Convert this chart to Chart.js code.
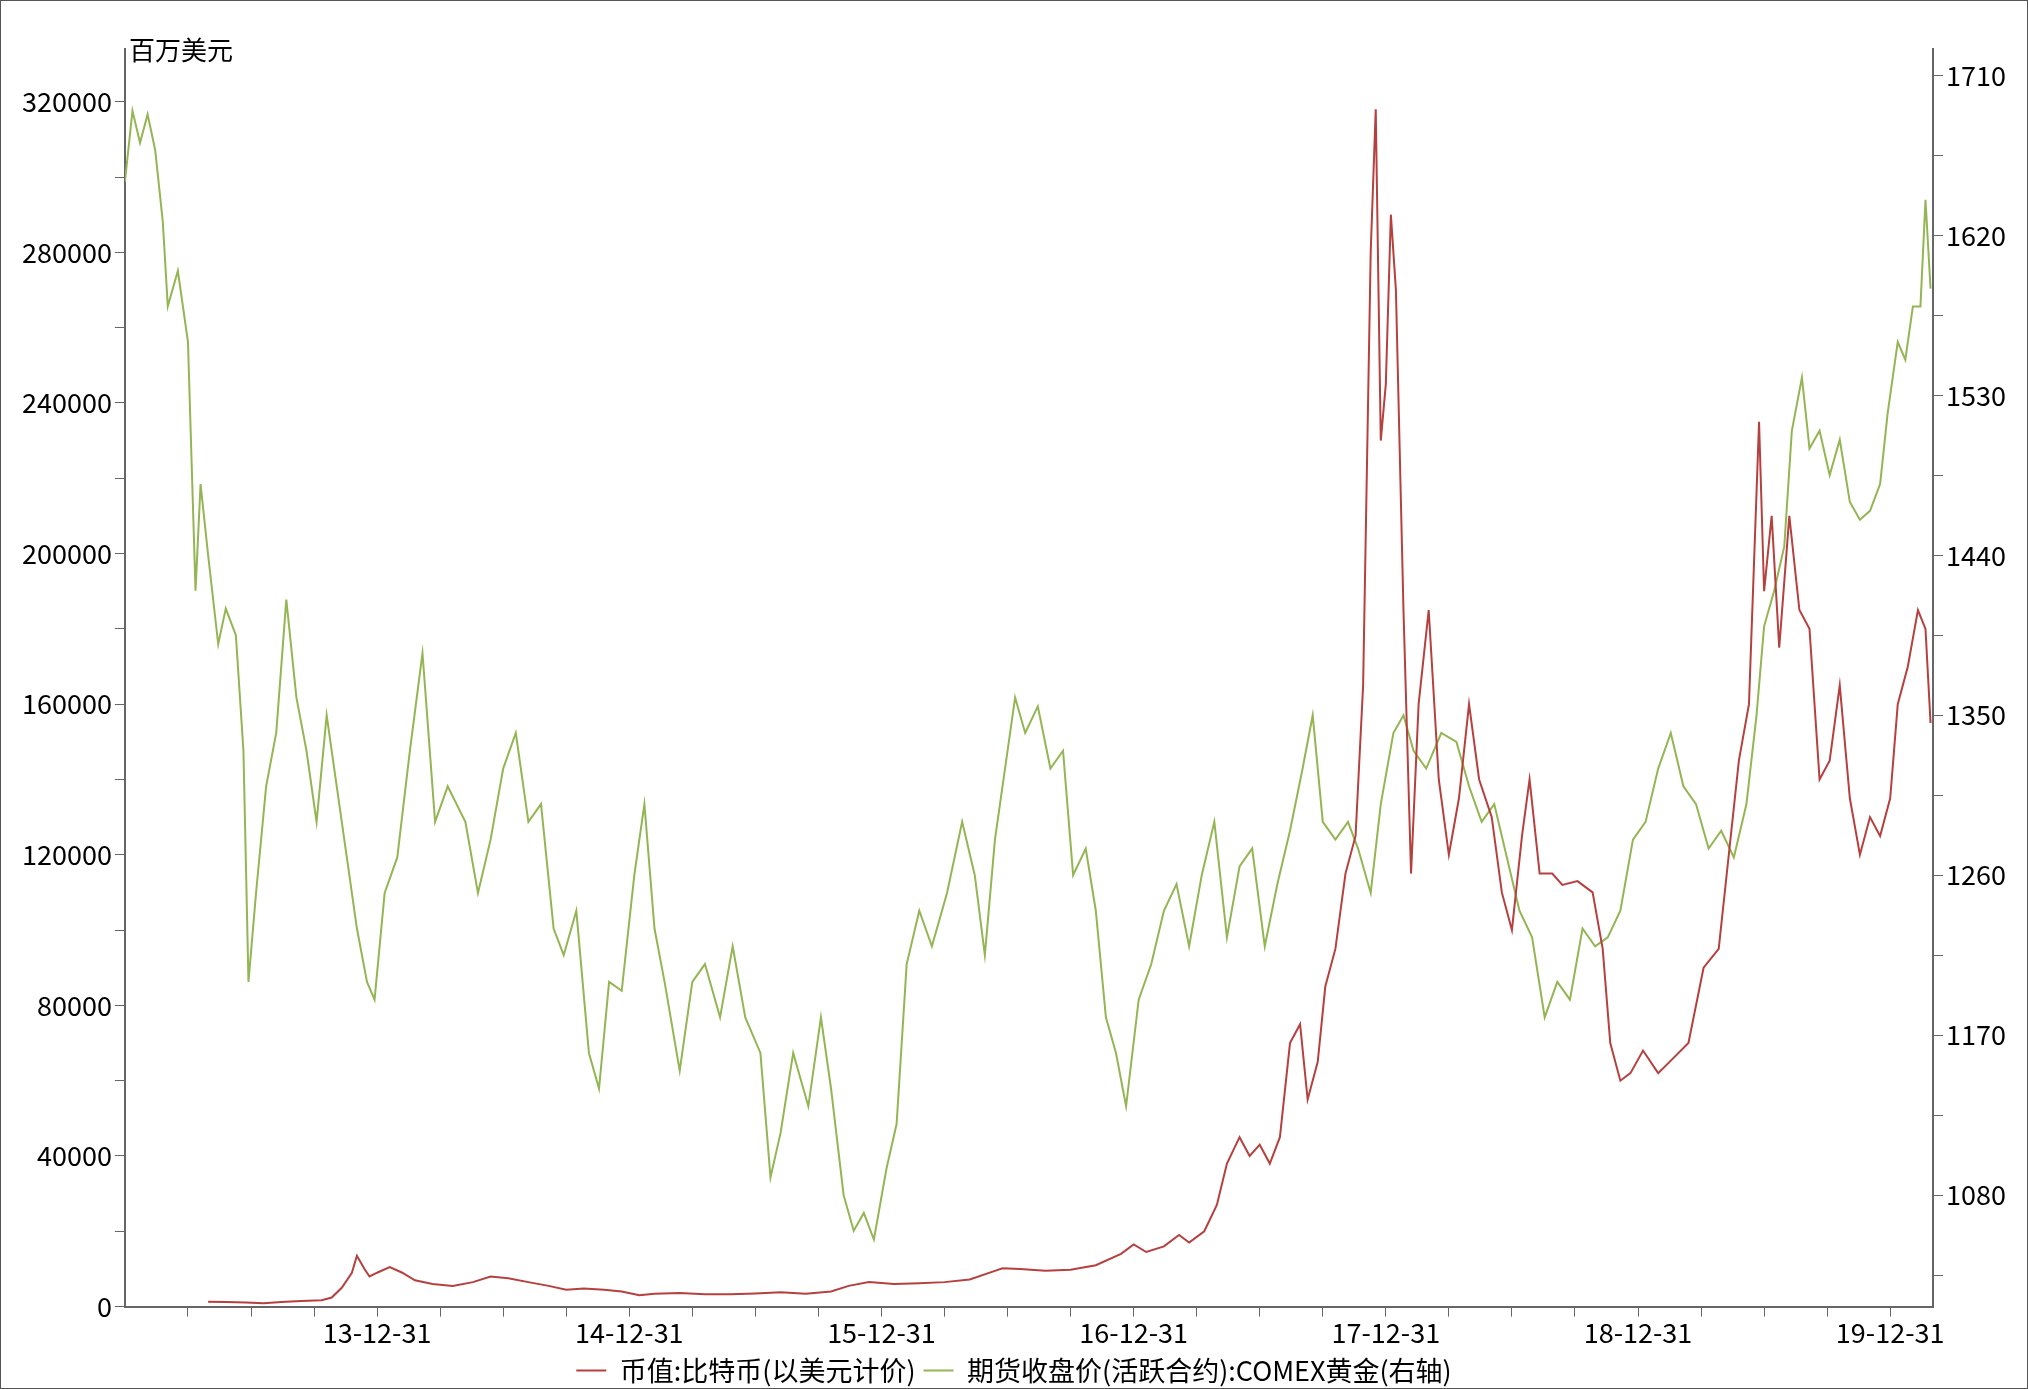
<!DOCTYPE html>
<html><head><meta charset="utf-8">
<script src="https://cdn.jsdelivr.net/npm/chart.js@4"></script>
<style>
body{margin:0;background:#fff;}
#wrap{position:absolute;left:0;top:0;width:2026px;height:1387px;border:1px solid #555;}
</style></head>
<body><div id="wrap"><canvas id="c" width="2026" height="1387"></canvas></div>
<script>
// x in decimal years; 2014.0 is shown as 13-12-31
var yearTicks = [2014, 2015, 2016, 2017, 2018, 2019, 2020];
var rightTicks = [1080, 1170, 1260, 1350, 1440, 1530, 1620, 1710];

var gold = [
[2013.00,1650],[2013.03,1690],[2013.06,1672],[2013.09,1688],[2013.12,1668],[2013.15,1628],[2013.17,1580],[2013.21,1600],[2013.25,1560],[2013.28,1420],[2013.30,1480],[2013.33,1440],[2013.37,1390],[2013.40,1410],[2013.44,1395],[2013.47,1330],[2013.49,1200],[2013.52,1250],[2013.56,1310],[2013.60,1340],[2013.64,1415],[2013.68,1360],[2013.72,1330],[2013.76,1290],[2013.80,1350],[2013.84,1310],[2013.88,1270],[2013.92,1230],[2013.96,1200],[2013.99,1190],
[2014.03,1250],[2014.08,1270],[2014.13,1330],[2014.18,1385],[2014.23,1290],[2014.28,1310],[2014.35,1290],[2014.40,1250],[2014.45,1280],[2014.50,1320],[2014.55,1340],[2014.60,1290],[2014.65,1300],[2014.70,1230],[2014.74,1215],[2014.79,1240],[2014.84,1160],[2014.88,1140],[2014.92,1200],[2014.97,1195],
[2015.02,1260],[2015.06,1300],[2015.10,1230],[2015.14,1200],[2015.20,1150],[2015.25,1200],[2015.30,1210],[2015.36,1180],[2015.41,1220],[2015.46,1180],[2015.52,1160],[2015.56,1090],[2015.60,1115],[2015.65,1160],[2015.71,1130],[2015.76,1180],[2015.80,1140],[2015.85,1080],[2015.89,1060],[2015.93,1070],[2015.97,1055],
[2016.02,1095],[2016.06,1120],[2016.10,1210],[2016.15,1240],[2016.20,1220],[2016.26,1250],[2016.32,1290],[2016.37,1260],[2016.41,1215],[2016.45,1280],[2016.49,1320],[2016.53,1360],[2016.57,1340],[2016.62,1355],[2016.67,1320],[2016.72,1330],[2016.76,1260],[2016.81,1275],[2016.85,1240],[2016.89,1180],[2016.93,1160],[2016.97,1130],
[2017.02,1190],[2017.07,1210],[2017.12,1240],[2017.17,1255],[2017.22,1220],[2017.27,1260],[2017.32,1290],[2017.37,1225],[2017.42,1265],[2017.47,1275],[2017.52,1220],[2017.57,1255],[2017.62,1285],[2017.67,1320],[2017.71,1350],[2017.75,1290],[2017.80,1280],[2017.85,1290],[2017.89,1275],[2017.94,1250],[2017.98,1300],
[2018.03,1340],[2018.07,1350],[2018.11,1330],[2018.16,1320],[2018.22,1340],[2018.28,1335],[2018.33,1310],[2018.38,1290],[2018.43,1300],[2018.48,1270],[2018.53,1240],[2018.58,1225],[2018.63,1180],[2018.68,1200],[2018.73,1190],[2018.78,1230],[2018.83,1220],[2018.88,1225],[2018.93,1240],[2018.98,1280],
[2019.03,1290],[2019.08,1320],[2019.13,1340],[2019.18,1310],[2019.23,1300],[2019.28,1275],[2019.33,1285],[2019.38,1270],[2019.43,1300],[2019.47,1350],[2019.50,1400],[2019.54,1420],[2019.58,1445],[2019.61,1510],[2019.65,1540],[2019.68,1500],[2019.72,1510],[2019.76,1485],[2019.80,1505],[2019.84,1470],[2019.88,1460],[2019.92,1465],[2019.96,1480],[2019.99,1520],
[2020.03,1560],[2020.06,1550],[2020.09,1580],[2020.12,1580],[2020.14,1640],[2020.16,1590]
];
var btc = [
[2013.33,1300],[2013.40,1200],[2013.48,1100],[2013.55,900],[2013.62,1200],[2013.70,1500],[2013.78,1700],[2013.82,2400],[2013.86,5000],[2013.90,9000],[2013.92,13500],[2013.95,10000],[2013.97,8000],[2014.00,9000],
[2014.05,10500],[2014.10,9000],[2014.15,7000],[2014.22,6000],[2014.30,5500],[2014.38,6500],[2014.45,8000],[2014.52,7500],[2014.60,6500],[2014.68,5500],[2014.75,4500],[2014.82,4800],[2014.90,4500],[2014.97,4000],
[2015.04,3000],[2015.10,3400],[2015.20,3600],[2015.30,3300],[2015.40,3300],[2015.50,3500],[2015.60,3800],[2015.70,3400],[2015.80,4000],[2015.87,5500],[2015.95,6500],
[2016.05,6000],[2016.15,6200],[2016.25,6500],[2016.35,7200],[2016.45,9500],[2016.48,10200],[2016.55,10000],[2016.65,9500],[2016.75,9800],[2016.85,11000],[2016.95,14000],
[2017.00,16500],[2017.05,14500],[2017.12,16000],[2017.18,19000],[2017.22,17000],[2017.28,20000],[2017.33,27000],[2017.37,38000],[2017.42,45000],[2017.46,40000],[2017.50,43000],[2017.54,38000],[2017.58,45000],[2017.62,70000],[2017.66,75000],[2017.69,55000],[2017.73,65000],[2017.76,85000],[2017.80,95000],[2017.84,115000],[2017.88,125000],[2017.91,165000],[2017.94,280000],[2017.96,318000],[2017.98,230000],
[2018.00,245000],[2018.02,290000],[2018.04,270000],[2018.07,185000],[2018.10,115000],[2018.13,160000],[2018.17,185000],[2018.21,140000],[2018.25,120000],[2018.29,135000],[2018.33,160000],[2018.37,140000],[2018.42,130000],[2018.46,110000],[2018.50,100000],[2018.54,125000],[2018.57,140000],[2018.61,115000],[2018.66,115000],[2018.70,112000],[2018.76,113000],[2018.82,110000],[2018.86,95000],[2018.89,70000],[2018.93,60000],[2018.97,62000],
[2019.02,68000],[2019.08,62000],[2019.14,66000],[2019.20,70000],[2019.26,90000],[2019.32,95000],[2019.36,120000],[2019.40,145000],[2019.44,160000],[2019.48,235000],[2019.50,190000],[2019.53,210000],[2019.56,175000],[2019.60,210000],[2019.64,185000],[2019.68,180000],[2019.72,140000],[2019.76,145000],[2019.80,165000],[2019.84,135000],[2019.88,120000],[2019.92,130000],[2019.96,125000],[2020.00,135000],
[2020.03,160000],[2020.07,170000],[2020.11,185000],[2020.14,180000],[2020.16,155000]
];

var unitLabel = {
  id: 'unitLabel',
  afterDraw: function (chart) {
    var ctx = chart.ctx;
    ctx.save();
    ctx.font = '26px "Noto Sans CJK SC"';
    ctx.fillStyle = '#000';
    ctx.textBaseline = 'bottom';
    ctx.fillText('百万美元', chart.chartArea.left + 4, 62);
    ctx.restore();
  }
};

var font = { family: '"Noto Sans CJK SC"', size: 27 };

new Chart(document.getElementById('c').getContext('2d'), {
  type: 'line',
  data: {
    datasets: [{
      label: '币值:比特币(以美元计价)',
      data: btc.map(function (p) { return { x: p[0], y: p[1] }; }),
      borderColor: '#b5403e', borderWidth: 2, pointRadius: 0, yAxisID: 'y', tension: 0
    }, {
      label: '期货收盘价(活跃合约):COMEX黄金(右轴)',
      data: gold.map(function (p) { return { x: p[0], y: p[1] }; }),
      borderColor: '#93b553', borderWidth: 2, pointRadius: 0, yAxisID: 'y2', tension: 0
    }]
  },
  options: {
    responsive: false, animation: false,
    layout: { padding: { top: 48, right: 18, left: 18, bottom: 0 } },
    plugins: {
      legend: {
        position: 'bottom',
        labels: { font: font, color: '#000', boxWidth: 30, boxHeight: 0, padding: 8 },
        onClick: null
      },
      tooltip: { enabled: false }
    },
    scales: {
      x: {
        type: 'linear', min: 2013.0, max: 2020.17,
        afterBuildTicks: function (axis) {
          var t = [];
          for (var q = 2013.25; q <= 2020.01; q += 0.25) t.push({ value: q });
          axis.ticks = t;
        },
        ticks: {
          font: font, color: '#000', autoSkip: false, maxRotation: 0, padding: 0,
          callback: function (v) {
            if (Math.abs(v - Math.round(v)) > 0.01) return '';
            return String(Math.round(v) - 1 - 2000) + '-12-31';
          }
        },
        grid: { drawOnChartArea: false, tickLength: 10, color: '#666' },
        border: { color: '#666', width: 2 }
      },
      y: {
        position: 'left', min: 0, max: 334000,
        afterBuildTicks: function (axis) {
          var t = [];
          for (var v = 0; v <= 320000; v += 20000) t.push({ value: v });
          axis.ticks = t;
        },
        ticks: {
          font: font, color: '#000', autoSkip: false,
          callback: function (v) { return v % 40000 === 0 ? String(v) : ''; }
        },
        grid: { drawOnChartArea: false, tickLength: 10, color: '#666' },
        border: { color: '#666', width: 2 }
      },
      y2: {
        position: 'right', min: 1017.3, max: 1724.8,
        afterBuildTicks: function (axis) {
          var t = [];
          for (var v = 1035; v <= 1710; v += 45) t.push({ value: v });
          axis.ticks = t;
        },
        ticks: {
          font: font, color: '#000', autoSkip: false,
          callback: function (v) { return rightTicks.indexOf(v) >= 0 ? String(v) : ''; }
        },
        grid: { drawOnChartArea: false, tickLength: 10, color: '#666' },
        border: { color: '#666', width: 2 }
      }
    }
  },
  plugins: [unitLabel, {
    id: 'legendGap',
    beforeInit: function (chart) {
      var fit = chart.legend.fit;
      chart.legend.fit = function () {
        fit.bind(chart.legend)();
        this.height -= 6;
      };
    },
    afterUpdate: function (chart) {
      // spread the two legend items apart like the reference
      var hb = chart.legend.legendHitBoxes;
      if (hb && hb.length === 2) {
        hb[0].left = 400;
        hb[1].left = 1030;
      }
    }
  }]
});
</script>
</body></html>
